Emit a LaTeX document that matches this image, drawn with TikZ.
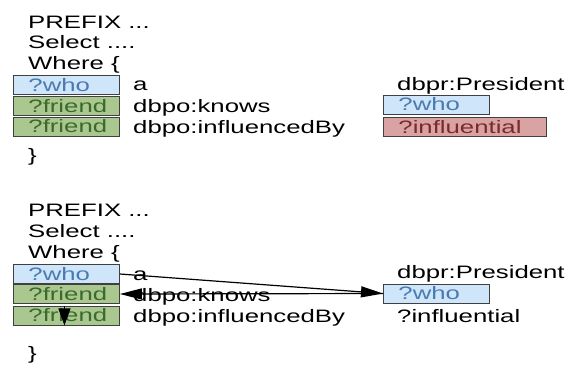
\documentclass[tikz,border=0pt]{standalone}
\usepackage{fontspec}
\setmainfont{Liberation Sans}[FakeStretch=1.43]
\usetikzlibrary{
    positioning,
    arrows.meta
}

\definecolor{whofill}{RGB}{206,229,250}
\definecolor{whotext}{RGB}{74,122,176}
\definecolor{friendfill}{RGB}{170,199,144}
\definecolor{friendtext}{RGB}{58,106,44}
\definecolor{inflfill}{RGB}{218,163,163}
\definecolor{infltext}{RGB}{122,42,42}
\definecolor{boxline}{RGB}{64,64,64}

\tikzset{
    txt/.style={anchor=base west, inner sep=0pt},
    var/.style={draw=boxline, line width=0.9pt, anchor=west, inner xsep=15pt, inner ysep=0pt,
        text width=76pt, minimum height=19pt, text height=12pt, text depth=0pt},
    whovar/.style={var, fill=whofill, text=whotext},
    friendvar/.style={var, fill=friendfill, text=friendtext},
    inflvar/.style={var, fill=inflfill, text=infltext, text width=133pt},
    link/.style={line width=1.2pt, -{Triangle[length=22pt, width=11pt]}}
}

\begin{document}
\begin{tikzpicture}[x=1pt, y=-1pt, font=\fontsize{18}{21}\selectfont]
    \useasboundingbox (0,0) rectangle (570,365);

    % First query
    \node[txt] (pre1) at (28,28) {PREFIX ...};
    \node[txt] (sel1) at (28,48) {Select ....};
    \node[txt] (whr1) at (28,69) {Where \{};
    \node[whovar] (who1) at (13,85) {?who};
    \node[friendvar] (fr1) at (13,106) {?friend};
    \node[friendvar] (frb1) at (13,126.5) {?friend};
    \node[txt] (a1) at (133,90) {a};
    \node[txt] (kn1) at (133,112) {dbpo:knows};
    \node[txt] (inf1) at (133,133) {dbpo:influencedBy};
    \node[txt] (pres1) at (397,90) {dbpr:President};
    \node[whovar] (whor1) at (383,104.5) {?who};
    \node[inflvar] (infl1) at (383,127) {?influential};
    \node[txt] (end1) at (28,161) {\}};

    % Second query
    \node[txt] (pre2) at (28,216) {PREFIX ...};
    \node[txt] (sel2) at (28,237) {Select ....};
    \node[txt] (whr2) at (28,258) {Where \{};
    \node[whovar] (who2) at (13,274) {?who};
    \node[friendvar] (fr2) at (13,294) {?friend};
    \node[friendvar] (frb2) at (13,315.5) {?friend};
    \node[txt] (a2) at (133,280) {a};
    \node[txt] (kn2) at (133,301) {dbpo:knows};
    \node[txt] (inf2) at (133,322) {dbpo:influencedBy};
    \node[txt] (pres2) at (397,278) {dbpr:President};
    \node[whovar] (whor2) at (383,293.5) {?who};
    \node[txt] (infl2) at (397,322) {?influential};
    \node[txt] (end2) at (28,359) {\}};

    % Join arrows
    \draw[link] (who2.east) -- (whor2.west);
    \draw[link] (whor2.west) -- (fr2.east);
    \draw[line width=1.2pt, -{Triangle[length=17pt, width=12pt]}] ([xshift=-2pt]frb2.north) -- ([xshift=-2pt]frb2.south);
\end{tikzpicture}
\end{document}
